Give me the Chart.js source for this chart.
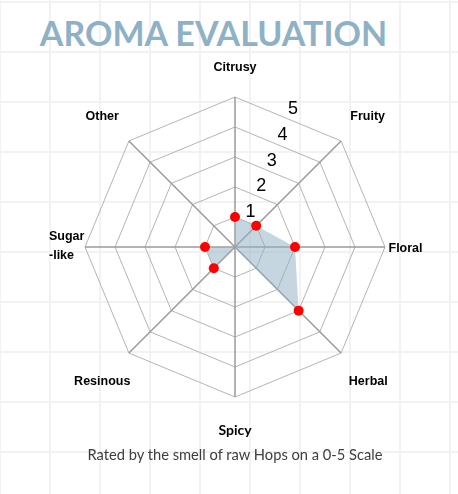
<!DOCTYPE html>
<html>
<head>
<meta charset="utf-8">
<script src="https://cdn.jsdelivr.net/npm/chart.js@4.4.1/dist/chart.umd.min.js"></script>
<style>
  html, body { margin: 0; padding: 0; background: #fff; }
  #wrap {
    position: relative;
    width: 458px;
    height: 494px;
    overflow: hidden;
    background-color: #fff;
    background-image:
      linear-gradient(to right, #f2f2f2 2px, transparent 2px),
      linear-gradient(to bottom, #f2f2f2 2px, transparent 2px);
    background-size: 50px 50px;
    background-position: 49px 1px;
  }
  #title {
    position: absolute;
    left: 0;
    width: 427px;
    top: 16px;
    text-align: center;
    font: bold 34px/1 Lato, sans-serif;
    color: #8fb1c6;
    white-space: nowrap;
  }
  #subtitle {
    position: absolute;
    left: 0;
    width: 470px;
    top: 447px;
    text-align: center;
    font: 14.7px/1 Lato, sans-serif;
    color: #3d3d3d;
    white-space: nowrap;
  }
  canvas { position: absolute; left: 0; top: 0; }
</style>
</head>
<body>
<div id="wrap">
  <div id="title">AROMA EVALUATION</div>
  <canvas id="chart" width="458" height="494"></canvas>
  <div id="subtitle">Rated by the smell of raw Hops on a 0-5 Scale</div>
</div>
<script>
// chart data
const axisNames = ['Citrusy', 'Fruity', 'Floral', 'Herbal', 'Spicy', 'Resinous', ['Sugar', '-like'], 'Other'];
const scores = [1, 1, 2, 3, 0, 1, 1, 0];
const tickLabels = ['1', '2', '3', '4', '5'];

// where each axis name sits relative to the tip of its spoke
const labelStyle = [
    { dx: 0, dy: -29.8, align: 'center' },
    { dx: 26.6, dy: -24.2, align: 'center' },
    { dx: 3.5, dy: 1.3, align: 'left' },
    { dx: 27.2, dy: 28.2, align: 'center' },
    { dx: 0, dy: 33.5, align: 'center', font: 'bold 14px Lato' },
    { dx: -26.7, dy: 28.2, align: 'center' },
    { dx: -36, dy: -10, align: 'left', gap: 19 },
    { dx: -26.7, dy: -24.2, align: 'center' }
];

const axisText = {
    id: 'axisText',
    afterDraw(chart) {
        const r = chart.scales.r;
        const ctx = chart.ctx;
        ctx.save();
        ctx.fillStyle = '#000';
        ctx.textBaseline = 'middle';

        axisNames.forEach((name, i) => {
            const st = labelStyle[i];
            const tip = r.getPointPosition(i, r.drawingArea);
            ctx.font = st.font || 'bold 12.5px "Liberation Sans"';
            ctx.textAlign = st.align;
            [].concat(name).forEach((line, k) => {
                ctx.fillText(line, tip.x + st.dx, tip.y + st.dy + k * (st.gap || 0));
            });
        });

        // numbers run up between Citrusy and Fruity, just outside each ring
        ctx.font = '18px "Liberation Sans"';
        ctx.textAlign = 'center';
        tickLabels.forEach(t => {
            const d = r.getDistanceFromCenterForValue(Number(t)) * Math.cos(Math.PI / 8);
            const p = r.getPointPosition(0.5, d);
            ctx.fillText(t, p.x + 5, p.y - 9.5);
        });
        ctx.restore();
    }
};

Chart.defaults.font.family = '"Liberation Sans", Arial, sans-serif';

new Chart(document.getElementById('chart'), {
    type: 'radar',
    data: {
        labels: axisNames,
        datasets: [{
            data: scores,
            fill: 'start',
            backgroundColor: 'rgba(143, 176, 196, 0.52)',
            borderWidth: 0,
            borderColor: 'rgba(143, 176, 196, 0)',
            pointBackgroundColor: '#ff0000',
            pointBorderColor: '#ff0000',
            pointBorderWidth: 0,
            pointRadius: ctx => ctx.raw > 0 ? 5 : 0,
            pointHoverRadius: ctx => ctx.raw > 0 ? 5 : 0
        }]
    },
    options: {
        responsive: false,
        animation: false,
        layout: { padding: { left: 85, right: 73, top: 97, bottom: 97 } },
        plugins: {
            legend: { display: false },
            tooltip: { enabled: false }
        },
        scales: {
            r: {
                min: 0,
                max: 5,
                ticks: { stepSize: 1, display: false },
                pointLabels: { display: false },
                grid: { color: '#b4b4b4', lineWidth: 1 },
                angleLines: { color: '#9a9a9a', lineWidth: 1.5 }
            }
        }
    },
    plugins: [axisText]
});
</script>
</body>
</html>
